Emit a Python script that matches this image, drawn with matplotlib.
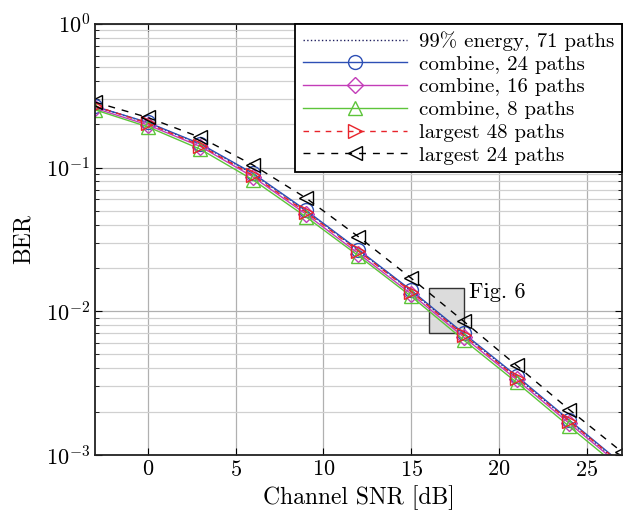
import numpy as np
import matplotlib.pyplot as plt

plt.rcParams['font.family'] = ['cmr10', 'DejaVu Serif']
plt.rcParams['mathtext.fontset'] = 'cm'
plt.rcParams['axes.formatter.use_mathtext'] = True

snr = [-3, 0, 3, 6, 9, 12, 15, 18, 21, 24, 27]

energy99 = [0.265, 0.205, 0.145, 0.090, 0.0500, 0.0265, 0.0138, 0.0069, 0.0035, 0.00172, 0.00085]
comb24 = [0.266, 0.206, 0.146, 0.091, 0.0505, 0.0268, 0.0140, 0.0070, 0.00355, 0.00175, 0.00087]
comb16 = [0.258, 0.198, 0.140, 0.086, 0.0475, 0.0252, 0.0132, 0.0066, 0.00335, 0.00166, 0.00083]
comb8 = [0.252, 0.192, 0.134, 0.082, 0.0455, 0.0243, 0.0127, 0.0063, 0.00320, 0.00158, 0.00079]
largest48 = [0.268, 0.203, 0.142, 0.088, 0.0490, 0.0262, 0.0137, 0.0068, 0.00345, 0.00172, 0.00086]
largest24 = [0.285, 0.223, 0.162, 0.104, 0.0615, 0.0330, 0.0170, 0.0085, 0.00420, 0.00207, 0.00105]

fig = plt.figure(figsize=(6.25, 5.17), dpi=100)
ax = fig.add_axes([0.152, 0.12, 0.843, 0.834])

ax.plot(snr, energy99, color='#202060', ls=':', lw=1.0, label='99% energy, 71 paths')
ax.plot(snr, comb24, color='#2d4fb5', ls='-', lw=1.0, marker='o', ms=10, mfc='none',
        mec='#2d4fb5', label='combine, 24 paths')
ax.plot(snr, comb16, color='#c33cb8', ls='-', lw=1.0, marker='D', ms=8, mfc='none',
        mec='#c33cb8', label='combine, 16 paths')
ax.plot(snr, comb8, color='#5dc43a', ls='-', lw=1.0, marker='^', ms=10, mfc='none',
        mec='#5dc43a', label='combine, 8 paths')
ax.plot(snr, largest48, color='#e8232a', ls=(0, (4, 4)), lw=1.0, marker='>', ms=10, mfc='none',
        mec='#e8232a', label='largest 48 paths')
ax.plot(snr, largest24, color='black', ls=(0, (5, 5)), lw=1.0, marker='<', ms=10, mfc='none',
        mec='black', label='largest 24 paths')

# zoom region marker
ax.fill([16, 18, 18, 16, 16], [0.0071, 0.0071, 0.0146, 0.0146, 0.0071],
        facecolor='#dcdcdc', edgecolor='#333333', lw=1.0, zorder=1)
ax.text(18.3, 0.0135, 'Fig. 6', fontsize=16, ha='left', va='center')

ax.set_yscale('log')
ax.set_xlim(-3, 27)
ax.set_ylim(1e-3, 1)
ax.set_xticks([0, 5, 10, 15, 20, 25])
ax.set_yticks([1e-3, 1e-2, 1e-1, 1])
ax.tick_params(which='both', direction='in', labelsize=16, top=True, right=True)
ax.tick_params(which='major', length=5)
ax.tick_params(which='minor', length=3)
ax.grid(True, which='major', color='#b0b0b0', lw=0.9)
ax.grid(True, which='minor', axis='y', color='#d0d0d0', lw=0.9)
ax.set_axisbelow(True)
for s in ax.spines.values():
    s.set_linewidth(1.3)
    s.set_color('#222222')

ax.set_xlabel('Channel SNR [dB]', fontsize=17)
ax.set_ylabel('BER', fontsize=17, labelpad=8)

leg = ax.legend(loc='upper right', fontsize=15, fancybox=False, framealpha=1,
                edgecolor='black', handlelength=5.0, borderpad=0.35, labelspacing=0.2,
                borderaxespad=0.0, handletextpad=0.6)
leg.get_frame().set_linewidth(1.3)

fig.savefig('out.png', dpi=100)
